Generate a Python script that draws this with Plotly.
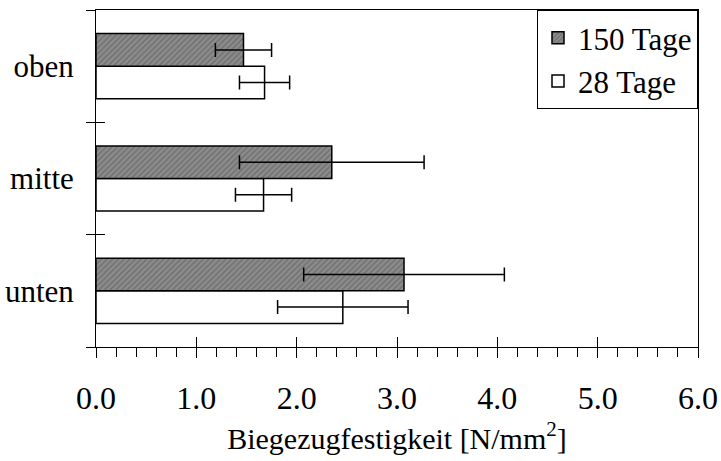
import plotly.graph_objects as go

categories = ["oben", "mitte", "unten"]
series_names = ["150 Tage", "28 Tage"]
values_150 = [1.47, 2.35, 3.07]
errors_150 = [0.28, 0.92, 1.0]
values_28 = [1.68, 1.67, 2.46]
errors_28 = [0.25, 0.28, 0.65]
x_ticks = [0, 1, 2, 3, 4, 5, 6]

FONT = "Liberation Serif, Times New Roman, serif"

fig = go.Figure()
# 28 Tage first so it is drawn at the lower slot of each group
fig.add_trace(go.Bar(
    name=series_names[1], y=categories, x=values_28, orientation="h",
    marker=dict(color="white", line=dict(color="black", width=1.5)),
    error_x=dict(type="data", array=errors_28, color="black", thickness=1.5, width=7),
))
fig.add_trace(go.Bar(
    name=series_names[0], y=categories, x=values_150, orientation="h",
    marker=dict(color="#8c8c8c", line=dict(color="black", width=1.5),
                pattern=dict(shape="/", fgcolor="#4f4f4f", bgcolor="#8c8c8c", size=4, solidity=0.35)),
    error_x=dict(type="data", array=errors_150, color="black", thickness=1.5, width=7),
))
# invisible helper trace so the overlay tick axes (inner half of crossing ticks) are drawn
fig.add_trace(go.Scatter(x=[0], y=[0], xaxis="x2", yaxis="y2", mode="markers",
                         marker=dict(opacity=0), showlegend=False, hoverinfo="skip"))

fig.update_layout(
    width=721, height=461,
    margin=dict(l=96, r=23, t=10, b=114),
    paper_bgcolor="white", plot_bgcolor="white",
    barmode="group", bargap=0.42, bargroupgap=0,
    font=dict(family=FONT, size=31, color="black"),
    showlegend=True,
    legend=dict(x=1, y=1, xanchor="right", yanchor="top", traceorder="reversed",
                bordercolor="black", borderwidth=1, bgcolor="white",
                font=dict(family=FONT, size=31), itemwidth=30, tracegroupgap=0),
    xaxis=dict(range=[0, 6], tickvals=x_ticks, tickformat=".1f", automargin=False,
               ticks="outside", ticklen=10, tickwidth=1, tickcolor="black",
               minor=dict(dtick=0.2, ticks="outside", ticklen=9, tickcolor="black", tickwidth=1),
               showline=True, linecolor="black", linewidth=1, mirror=True,
               showgrid=False, zeroline=False, ticklabelstandoff=13,
               title=dict(text="Biegezugfestigkeit [N/mm<sup>2</sup>]", font=dict(family=FONT, size=30), standoff=12),
               tickfont=dict(family=FONT, size=32)),
    yaxis=dict(type="category", categoryorder="array", categoryarray=categories[::-1],
               automargin=False,
               tickson="boundaries", ticks="outside", ticklen=9, tickwidth=1, tickcolor="black",
               showline=True, linecolor="black", linewidth=1, mirror=True,
               showgrid=False, zeroline=False, ticklabelstandoff=15,
               tickfont=dict(family=FONT, size=31)),
    xaxis2=dict(overlaying="x", anchor="y2", side="bottom", range=[0, 6], tickvals=x_ticks,
                ticks="inside", ticklen=10, tickwidth=1, tickcolor="black", automargin=False,
                showticklabels=False, showline=False, showgrid=False, zeroline=False),
    yaxis2=dict(overlaying="y", anchor="x2", side="left", range=[-0.5, 2.5],
                tickvals=[-0.5, 0.5, 1.5, 2.5], automargin=False,
                ticks="inside", ticklen=9, tickwidth=1, tickcolor="black",
                showticklabels=False, showline=False, showgrid=False, zeroline=False),
)

fig.write_html("out.html")
